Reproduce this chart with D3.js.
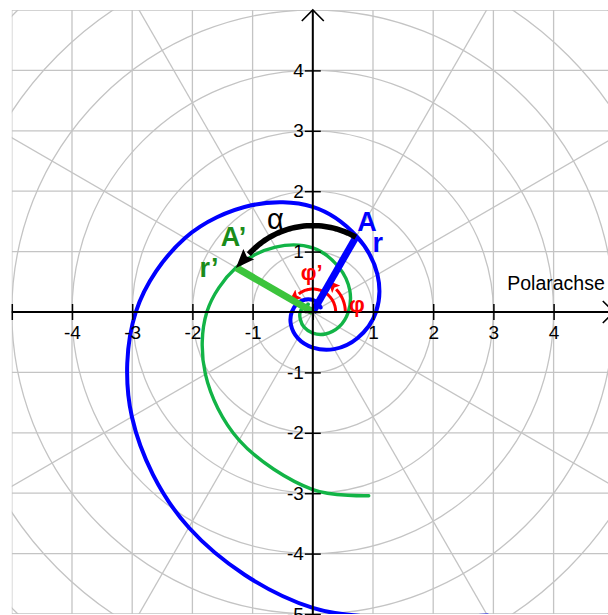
<!DOCTYPE html>
<html>
<head>
<meta charset="utf-8">
<script src="https://cdn.jsdelivr.net/npm/d3@7"></script>
<style>
  html, body { margin: 0; padding: 0; background: #fff; }
  svg { display: block; }
  text { font-family: "Liberation Sans", Arial, Helvetica, sans-serif; }
</style>
</head>
<body>
<svg id="chart" width="608" height="615"></svg>
<script>
// ---- grid and axis definitions ----
const gridValues = [-5, -4, -3, -2, -1, 0, 1, 2, 3, 4, 5];
const gridCircleRadii = [1, 2, 3, 4, 5, 6, 7];
const rayAngles = [30, 60, 120, 150];          // full lines through the pole
const xTickValues = [-5, -4, -3, -2, -1, 0, 1, 2, 3, 4];
const xTickLabels = ["", "-4", "-3", "-2", "-1", "", "1", "2", "3", "4"];
const yTickValues = [-5, -4, -3, -2, -1, 0, 1, 2, 3, 4];
const yTickLabels = ["-5", "-4", "-3", "-2", "-1", "", "1", "2", "3", "4"];

// ---- logarithmic spiral (blue), polar samples: cumulative angle in degrees, radius ----
const blueAngles = [30, 60, 90, 120, 150, 180, 210, 240, 270, 300, 330, 360,
                    390, 420, 450, 480, 510, 540, 570, 600, 630, 660];
const blueRadii  = [0.15, 0.17, 0.20, 0.24, 0.29, 0.35, 0.42, 0.50, 0.59, 0.71, 0.86, 1.05,
                    1.24, 1.45, 1.74, 2.04, 2.45, 2.94, 3.47, 4.12, 4.90, 5.80];

// ---- rotated spiral (green) ----
const greenAngles = [120, 150, 180, 210, 240, 270, 300, 330, 360, 390, 420, 450,
                     480, 510, 540, 570, 600, 630, 647];
const greenRadii  = [0.15, 0.17, 0.21, 0.24, 0.29, 0.35, 0.42, 0.50, 0.59, 0.71, 0.86, 1.06,
                     1.24, 1.47, 1.76, 2.06, 2.45, 2.94, 3.18];

// ---- marked points and angles ----
const pointA      = { angle: 60,  r: 1.45 };
const pointAprime = { angle: 150, r: 1.47 };
const alphaArc    = { from: 60, to: 138, r: 1.43 };
const phiArc      = { from: 0,  to: 44,  r: 0.54 };
const phiPrimeArc = { from: 0,  to: 128, r: 0.38 };

const svg = d3.select("#chart");

const x = d3.scaleLinear().domain([-5, 5]).range([11.8, 613.8]);
const y = d3.scaleLinear().domain([-5, 5]).range([614, 10]);

const rad = d => d * Math.PI / 180;
const polar = (angDeg, r) => [x(r * Math.cos(rad(angDeg))), y(r * Math.sin(rad(angDeg)))];

// clip to the plotting square
const defs = svg.append("defs");
defs.append("clipPath").attr("id", "plotClip")
  .append("rect")
  .attr("x", x(-5)).attr("y", y(5))
  .attr("width", x(5) - x(-5)).attr("height", y(-5) - y(5));

defs.append("marker")
  .attr("id", "headBlack").attr("markerUnits", "userSpaceOnUse")
  .attr("viewBox", "0 -8 20 16").attr("refX", 0).attr("refY", 0)
  .attr("markerWidth", 20).attr("markerHeight", 16).attr("orient", "auto")
  .append("path").attr("d", "M0,-7.5L19,0L0,7.5L3,0Z").attr("fill", "#000");
defs.append("marker")
  .attr("id", "headRed").attr("markerUnits", "userSpaceOnUse")
  .attr("viewBox", "0 -6 13 12").attr("refX", 0).attr("refY", 0)
  .attr("markerWidth", 13).attr("markerHeight", 12).attr("orient", "auto")
  .append("path").attr("d", "M0,-5.5L12,0L0,5.5L2.5,0Z").attr("fill", "#ff0000");

const plot = svg.append("g").attr("clip-path", "url(#plotClip)");

// ---- polar / cartesian grid ----
const grid = plot.append("g").attr("stroke", "#c4c4c4").attr("stroke-width", 1.3).attr("fill", "none");
grid.selectAll("line.v").data(gridValues).join("line").attr("class", "v")
  .attr("x1", d => x(d)).attr("x2", d => x(d)).attr("y1", y(5)).attr("y2", y(-5));
grid.selectAll("line.h").data(gridValues).join("line").attr("class", "h")
  .attr("y1", d => y(d)).attr("y2", d => y(d)).attr("x1", x(-5)).attr("x2", x(5));
grid.selectAll("ellipse").data(gridCircleRadii).join("ellipse")
  .attr("cx", x(0)).attr("cy", y(0))
  .attr("rx", d => x(d) - x(0)).attr("ry", d => y(0) - y(d));
grid.selectAll("line.ray").data(rayAngles).join("line").attr("class", "ray")
  .attr("x1", d => polar(d + 180, 8)[0]).attr("y1", d => polar(d + 180, 8)[1])
  .attr("x2", d => polar(d, 8)[0]).attr("y2", d => polar(d, 8)[1]);

// ---- axes ----
const axes = svg.append("g");
const xAxis = d3.axisBottom(x).tickValues(xTickValues)
  .tickFormat((d, i) => xTickLabels[i]).tickSizeInner(16).tickSizeOuter(0).tickPadding(6);
const gx = axes.append("g").attr("transform", `translate(0,${y(0) - 8})`).call(xAxis);
const yAxis = d3.axisLeft(y).tickValues(yTickValues)
  .tickFormat((d, i) => yTickLabels[i]).tickSizeInner(16).tickSizeOuter(0).tickPadding(1);
const gy = axes.append("g").attr("transform", `translate(${x(0) + 8},0)`).call(yAxis);
[gx, gy].forEach(g => {
  g.select(".domain").remove();
  g.selectAll(".tick line").attr("stroke", "#000").attr("stroke-width", 1.5);
  g.selectAll(".tick text").attr("fill", "#000").attr("font-size", 19)
    .attr("font-family", "'Liberation Sans', Arial, sans-serif");
});

axes.append("line").attr("x1", x(-5)).attr("x2", x(5)).attr("y1", y(0)).attr("y2", y(0))
  .attr("stroke", "#000").attr("stroke-width", 2);
axes.append("line").attr("x1", x(0)).attr("x2", x(0)).attr("y1", y(-5)).attr("y2", y(5))
  .attr("stroke", "#000").attr("stroke-width", 2);
// arrow barbs
axes.append("path")
  .attr("d", `M${x(5) - 11},${y(0) - 11}L${x(5)},${y(0)}L${x(5) - 11},${y(0) + 11}`)
  .attr("fill", "none").attr("stroke", "#000").attr("stroke-width", 1.6);
axes.append("path")
  .attr("d", `M${x(0) - 11},${y(5) + 11}L${x(0)},${y(5)}L${x(0) + 11},${y(5) + 11}`)
  .attr("fill", "none").attr("stroke", "#000").attr("stroke-width", 1.6);

svg.append("text").attr("x", x(3.23)).attr("y", y(0.37))
  .attr("font-size", 19.5).attr("fill", "#000").text("Polarachse");

// ---- spirals ----
const spiralLine = d3.line().curve(d3.curveCatmullRom.alpha(0.5));
const greenPts = greenAngles.map((a, i) => polar(a, greenRadii[i]));
const bluePts = blueAngles.map((a, i) => polar(a, blueRadii[i]));

plot.append("path").attr("d", spiralLine(greenPts))
  .attr("fill", "none").attr("stroke", "#12b446").attr("stroke-width", 3.4)
  .attr("stroke-linecap", "round").attr("stroke-linejoin", "round");
plot.append("path").attr("d", spiralLine(bluePts))
  .attr("fill", "none").attr("stroke", "#0000ff").attr("stroke-width", 4)
  .attr("stroke-linecap", "round").attr("stroke-linejoin", "round");

// ---- angle arcs ----
const arcPts = (a) => d3.range(a.from, a.to + 0.001, 2).map(t => polar(t, a.r));
const arcLine = d3.line();

plot.append("path").attr("d", arcLine(arcPts(phiPrimeArc)))
  .attr("fill", "none").attr("stroke", "#ff0000").attr("stroke-width", 3)
  .attr("marker-end", "url(#headRed)");
plot.append("path").attr("d", arcLine(arcPts(phiArc)))
  .attr("fill", "none").attr("stroke", "#ff0000").attr("stroke-width", 3)
  .attr("marker-end", "url(#headRed)");

// ---- radius vectors ----
const O = polar(0, 0);
const A = polar(pointA.angle, pointA.r);
const Ap = polar(pointAprime.angle, pointAprime.r);
plot.append("line").attr("x1", O[0]).attr("y1", O[1]).attr("x2", A[0]).attr("y2", A[1])
  .attr("stroke", "#0000ff").attr("stroke-width", 7);
plot.append("line").attr("x1", O[0]).attr("y1", O[1]).attr("x2", Ap[0]).attr("y2", Ap[1])
  .attr("stroke", "#3cc43c").attr("stroke-width", 7);

// rotation angle alpha
plot.append("path").attr("d", arcLine(arcPts(alphaArc)))
  .attr("fill", "none").attr("stroke", "#000").attr("stroke-width", 5.5)
  .attr("marker-end", "url(#headBlack)");

// ---- labels ----
const labels = [
  { text: "A",  px: 0.74,  py: 1.34, color: "#0000ff", size: 27, weight: "bold" },
  { text: "r",  px: 0.99,  py: 0.99, color: "#0000ff", size: 27, weight: "bold" },
  { text: "A\u2019", px: -1.53, py: 1.09, color: "#1a8c1a", size: 27, weight: "bold" },
  { text: "r\u2019", px: -1.88, py: 0.58, color: "#1a8c1a", size: 27, weight: "bold" },
  { text: "\u03b1", px: -0.76, py: 1.38, color: "#000", size: 29, weight: "normal" },
  { text: "\u03c6", px: 0.60,  py: 0.00, color: "#ff0000", size: 22, weight: "bold" },
  { text: "\u03c6\u2019", px: -0.20, py: 0.53, color: "#ff0000", size: 22, weight: "bold" }
];
svg.append("g").selectAll("text").data(labels).join("text")
  .attr("x", d => x(d.px)).attr("y", d => y(d.py))
  .attr("fill", d => d.color).attr("font-size", d => d.size).attr("font-weight", d => d.weight)
  .text(d => d.text);
</script>
</body>
</html>
